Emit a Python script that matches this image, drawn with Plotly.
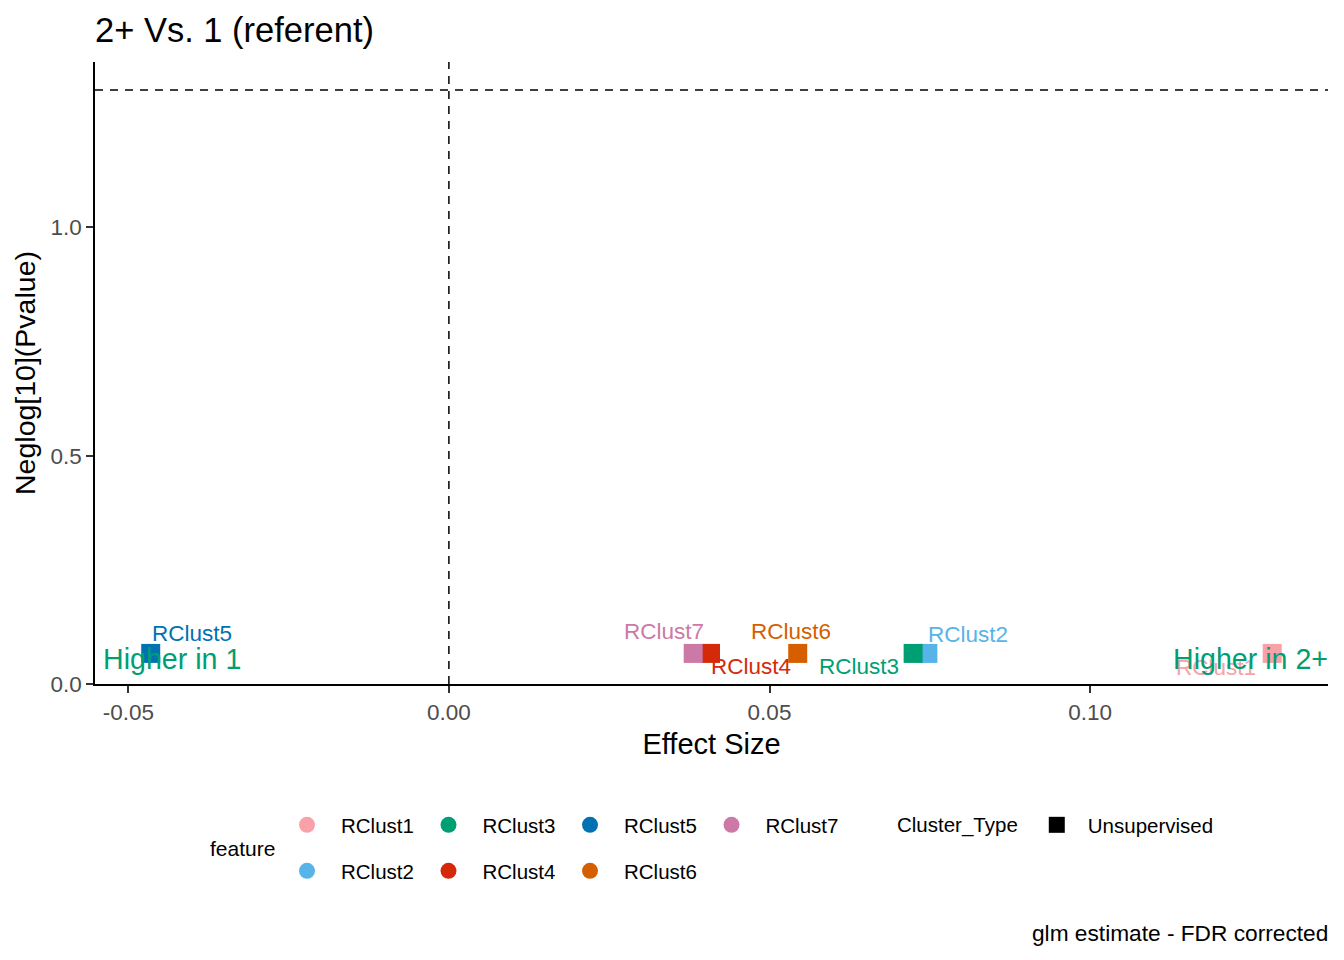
import math

import plotly.graph_objects as go

# data
features = ["RClust1", "RClust2", "RClust3", "RClust4", "RClust5", "RClust6", "RClust7"]
effect_size = [0.1284, 0.0747, 0.0724, 0.0408, -0.0465, 0.0544, 0.0381]
neglog_p = [0.067, 0.067, 0.067, 0.067, 0.067, 0.067, 0.067]
colors = ["#F8A1A8", "#56B4E9", "#009E73", "#D42A0A", "#0072B2", "#D55E00", "#CC79A7"]
cluster_type = "Unsupervised"
fdr_cut = 0.05

# label offsets (px) mimicking ggrepel placement
label_shift = {
    "RClust1": (-56, -14), "RClust2": (40, 19), "RClust3": (-54, -13),
    "RClust4": (40, -13), "RClust5": (41, 20), "RClust6": (-7, 22),
    "RClust7": (-29, 22),
}

FONT = "Liberation Sans, Arial, sans-serif"
W, H = 1344, 960
ML, MR, MT, MB = 95, 16, 62, 276

fig = go.Figure()

fig.add_trace(go.Scatter(
    x=effect_size, y=neglog_p, mode="markers",
    marker=dict(symbol="square", size=19, color=colors, line=dict(width=0)),
    showlegend=False, hoverinfo="text", text=features,
))

# legend-only entries (circles for feature, square for cluster type)
row1 = ["RClust1", "RClust3", "RClust5", "RClust7"]
for f, c in zip(features, colors):
    fig.add_trace(go.Scatter(
        x=[None], y=[None], mode="markers", name=f,
        marker=dict(symbol="circle", size=18, color=c),
        legend="legend" if f in row1 else "legend2",
    ))
fig.add_trace(go.Scatter(
    x=[None], y=[None], mode="markers", name=cluster_type,
    marker=dict(symbol="square", size=18, color="black"), legend="legend3",
))

fig.add_hline(y=-math.log10(fdr_cut), line=dict(color="black", width=1.5, dash="8px,7px"))
fig.add_vline(x=0, line=dict(color="black", width=1.5, dash="8px,7px"))

for f, x, y, c in zip(features, effect_size, neglog_p, colors):
    dx, dy = label_shift[f]
    fig.add_annotation(x=x, y=y, text=f, showarrow=False, xshift=dx, yshift=dy,
                       font=dict(family=FONT, size=22.5, color=c))

fig.add_annotation(xref="paper", yref="y", x=0, y=0.055, xshift=6, xanchor="left",
                   text="Higher in 1", showarrow=False,
                   font=dict(family=FONT, size=28.6, color="#009E73"))
fig.add_annotation(xref="paper", yref="y", x=1, y=0.055, xshift=2, xanchor="right",
                   text="Higher in 2+", showarrow=False,
                   font=dict(family=FONT, size=28.6, color="#009E73"))

fig.add_annotation(xref="paper", yref="paper",
                   x=(208 - ML) / (W - ML - MR), y=-(849 - (H - MB)) / (H - MT - MB),
                   xanchor="left", yanchor="middle", text="feature", showarrow=False,
                   font=dict(family=FONT, size=21, color="black"))
fig.add_annotation(xref="paper", yref="paper", x=1, y=-(933 - (H - MB)) / (H - MT - MB),
                   xshift=2, xanchor="right", yanchor="middle",
                   text="glm estimate - FDR corrected", showarrow=False,
                   font=dict(family=FONT, size=22.7, color="black"))

axis_common = dict(
    showline=True, linecolor="black", linewidth=1.5, mirror=False,
    ticks="outside", ticklen=7, tickwidth=1.5, tickcolor="#333333",
    showgrid=False, zeroline=False,
    tickfont=dict(family=FONT, size=22.5, color="#4D4D4D"),
)

legend_common = dict(orientation="h", xref="container", yref="container",
                     xanchor="left", yanchor="middle",
                     font=dict(family=FONT, size=20.5), itemclick=False)

fig.update_layout(
    width=W, height=H,
    paper_bgcolor="white", plot_bgcolor="white",
    margin=dict(l=ML, r=MR, t=MT, b=MB, pad=0),
    font=dict(family=FONT, color="black"),
    title=dict(text="2+ Vs. 1 (referent)", x=0, xref="paper", xanchor="left",
               y=1 - 30 / H, yref="container", yanchor="middle",
               font=dict(family=FONT, size=34.5, color="black")),
    xaxis=dict(axis_common, range=[-0.05519, 0.1371], tickvals=[-0.05, 0, 0.05, 0.10],
               ticktext=["-0.05", "0.00", "0.05", "0.10"],
               title=dict(text="Effect Size", standoff=10, font=dict(family=FONT, size=29))),
    yaxis=dict(axis_common, range=[0, 1.3625], tickvals=[0, 0.5, 1.0],
               ticktext=["0.0", "0.5", "1.0"],
               title=dict(text="Neglog[10](Pvalue)", standoff=6, font=dict(family=FONT, size=28.5))),
    legend=dict(legend_common, x=273 / W, y=1 - 825 / H, itemwidth=58, entrywidth=68.5),
    legend2=dict(legend_common, x=273 / W, y=1 - 871 / H, itemwidth=58, entrywidth=68.5),
    legend3=dict(legend_common, x=895 / W, y=1 - 825 / H, itemwidth=52,
                 title=dict(text="Cluster_Type", side="left", font=dict(family=FONT, size=20.5))),
)

fig.write_html("out.html", config={"displayModeBar": False},
               post_script="document.body.style.margin='0';")
